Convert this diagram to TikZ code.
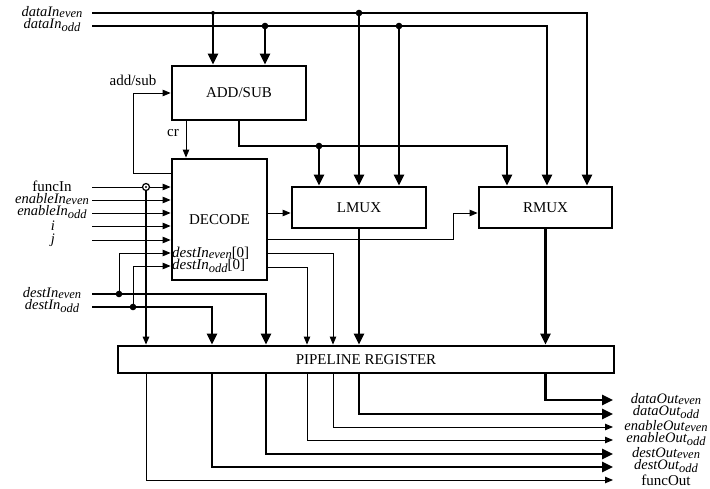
\documentclass[tikz,border=0pt]{standalone}
\usepackage{fontspec}
\setmainfont{Liberation Serif}
\usetikzlibrary{arrows.meta}
\newcommand\sbE[1]{\raisebox{-1.5pt}{\fontsize{12.5}{12.5}\selectfont #1}}
\newcommand\sbO[1]{\raisebox{-3.5pt}{\fontsize{12.5}{12.5}\selectfont #1}}
\tikzset{
  every node/.style={font=\fontsize{15}{15}\selectfont, inner sep=0pt},
  blk/.style 2 args={draw, line width=2.8pt, minimum width=#1, minimum height=#2, inner sep=0pt},
  thk/.style={line width=2.6pt, -{Triangle[length=11pt,width=10pt]}},
  thn/.style={line width=0.9pt, -{Triangle[length=8pt,width=6.5pt]}},
  lbl/.style={font=\fontsize{14.5}{14.5}\selectfont\itshape}
}
\begin{document}
\begin{tikzpicture}[x=1pt,y=-1pt]
\useasboundingbox (0,0) rectangle (710,489);
% blocks
\node[blk={134pt}{54pt}] (addsub) at (239,93) {ADD/SUB};
\node[blk={95pt}{121pt}] (decode) at (219.5,219.5) {DECODE};
\node[blk={134pt}{41pt}] (lmux) at (359,207.5) {LMUX};
\node[blk={133pt}{41pt}] (rmux) at (545.5,207.5) {RMUX};
\node[blk={496pt}{27pt}] (pipe) at (366,359.5) {PIPELINE REGISTER};
% input labels
\node[lbl] (ldE) at (52,12) {dataIn\sbE{even}};
\node[lbl] (ldO) at (52,25) {dataIn\sbO{odd}};
\node (lfi) at (52,186) {funcIn};
\node[lbl] (leE) at (52,199) {enableIn\sbE{even}};
\node[lbl] (leO) at (52,212) {enableIn\sbO{odd}};
\node[lbl] (li) at (53,226) {i};
\node[lbl] (lj) at (53,240) {j};
\node[lbl] (ldIE) at (52,293) {destIn\sbE{even}};
\node[lbl] (ldIO) at (52,306) {destIn\sbO{odd}};
\node (las) at (133,80) {add/sub};
\node (lcr) at (173,133) {cr};
\node[anchor=west] (ld0) at (172,253) {\itshape destIn\sbE{even}\upshape[0]};
\node[anchor=west] (ld1) at (172,266) {\itshape destIn\sbO{odd}\upshape[0]};
% output labels
\node[lbl] (oDE) at (666,399) {dataOut\sbE{even}};
\node[lbl] (oDO) at (666,412) {dataOut\sbO{odd}};
\node[lbl] (oEE) at (666,426) {enableOut\sbE{even}};
\node[lbl] (oEO) at (666,439) {enableOut\sbO{odd}};
\node[lbl] (oSE) at (666,453) {destOut\sbE{even}};
\node[lbl] (oSO) at (666,466) {destOut\sbO{odd}};
\node (oF) at (666,480) {funcOut};
% coordinates
\coordinate (dE) at (92,13);
\coordinate (dO) at (92,26);
\coordinate (rE) at (587,13);
\coordinate (rO) at (547,26);
\coordinate (j1) at (213,13);
\coordinate (j2) at (265,26);
\coordinate (j3) at (359,13);
\coordinate (j4) at (399,26);
\coordinate (b1) at (239,146);
\coordinate (b2) at (507,146);
\coordinate (jb) at (319,146);
\coordinate (as1) at (133,173);
\coordinate (crx) at (186,0);
\coordinate (fi) at (92,187);
\coordinate (eiE) at (92,200);
\coordinate (eiO) at (92,213);
\coordinate (ii) at (92,226);
\coordinate (ij) at (92,240);
\coordinate (jf) at (146,187);
\coordinate (dIE) at (92,294);
\coordinate (dIO) at (92,307);
\coordinate (jdE) at (119,294);
\coordinate (jdO) at (133,307);
\coordinate (cdE) at (266,294);
\coordinate (cdO) at (212,307);
\coordinate (y0) at (0,253);
\coordinate (y1) at (0,266);
\coordinate (dr1) at (0,213);
\coordinate (dr2) at (0,239);
\coordinate (dr3) at (0,253);
\coordinate (dr4) at (0,267);
\coordinate (k1) at (453,239);
\coordinate (k2) at (453,213);
\coordinate (k3) at (333,253);
\coordinate (k4) at (307,267);
\coordinate (eDE) at (613,400);
\coordinate (eDO) at (613,414);
\coordinate (eEE) at (613,427);
\coordinate (eEO) at (613,440);
\coordinate (eSE) at (613,454);
\coordinate (eSO) at (613,467);
\coordinate (eF) at (613,480);
% data inputs
\draw[thk] (dE) -- (rE) -- (rE |- rmux.north);
\draw[thk] (dO) -- (rO) -- (rO |- rmux.north);
\draw[thk] (j1) -- (j1 |- addsub.north);
\draw[thk] (j2) -- (j2 |- addsub.north);
\draw[thk] (j3) -- (j3 |- lmux.north);
\draw[thk] (j4) -- (j4 |- lmux.north);
\fill (j1) circle (2pt);
\fill (j2) circle (3.3pt);
\fill (j3) circle (3.3pt);
\fill (j4) circle (3.3pt);
% add/sub output
\draw[thk] (addsub.south) -- (b1) -- (b2) -- (b2 |- rmux.north);
\draw[thk] (jb) -- (jb |- lmux.north);
\fill (jb) circle (3.3pt);
% add/sub control and cr
\draw[thn] (as1 -| decode.west) -- (as1) |- (addsub.west);
\draw[thn] (crx |- addsub.south) -- (crx |- decode.north);
% decode inputs
\draw[thn] (fi) -- (fi -| decode.west);
\draw[thn] (eiE) -- (eiE -| decode.west);
\draw[thn] (eiO) -- (eiO -| decode.west);
\draw[thn] (ii) -- (ii -| decode.west);
\draw[thn] (ij) -- (ij -| decode.west);
\draw[thn, line width=1.3pt] (jf) -- (jf |- pipe.north);
\filldraw[fill=white, line width=1.2pt] (jf) circle (3.5pt);
\fill (jf) circle (1.2pt);
% dest inputs
\draw[thk] (dIE) -- (cdE) -- (cdE |- pipe.north);
\draw[thk] (dIO) -- (cdO) -- (cdO |- pipe.north);
\draw[thn] (jdE) |- (y0 -| decode.west);
\draw[thn] (jdO) |- (y1 -| decode.west);
\fill (jdE) circle (3.3pt);
\fill (jdO) circle (3.3pt);
% decode outputs
\draw[thn] (dr1 -| decode.east) -- (dr1 -| lmux.west);
\draw[thn] (dr2 -| decode.east) -- (k1) -- (k2) -- (k2 -| rmux.west);
\draw[thn] (dr3 -| decode.east) -- (k3) -- (k3 |- pipe.north);
\draw[thn] (dr4 -| decode.east) -- (k4) -- (k4 |- pipe.north);
% mux outputs
\draw[thk] (lmux.south) -- (lmux.south |- pipe.north);
\draw[thk] (rmux.south) -- (rmux.south |- pipe.north);
% pipeline outputs
\draw[thk] (rmux.south |- pipe.south) |- (eDE);
\draw[thk] (lmux.south |- pipe.south) |- (eDO);
\draw[thn] (k3 |- pipe.south) |- (eEE);
\draw[thn] (k4 |- pipe.south) |- (eEO);
\draw[thk] (cdE |- pipe.south) |- (eSE);
\draw[thk] (cdO |- pipe.south) |- (eSO);
\draw[thn] (jf |- pipe.south) |- (eF);
\end{tikzpicture}
\end{document}
